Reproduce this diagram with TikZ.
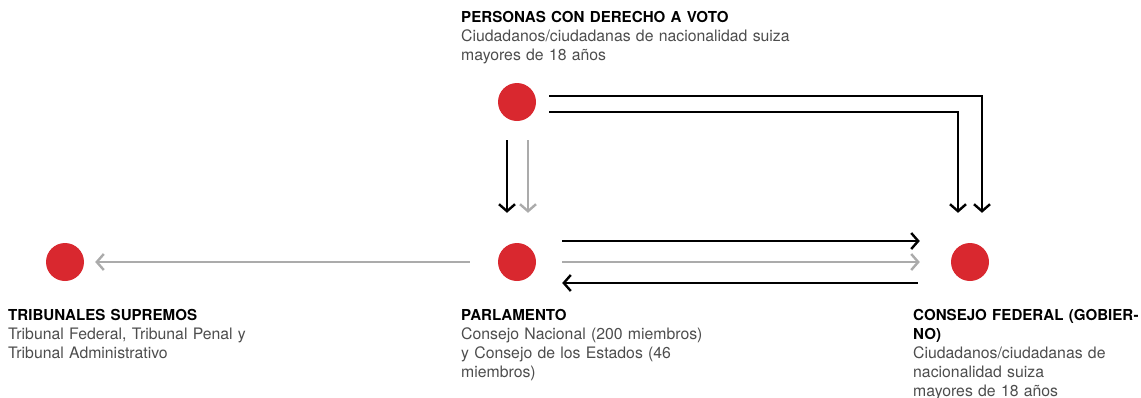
\documentclass[tikz,border=0pt]{standalone}
\usepackage{fontspec}
\setmainfont{TeX Gyre Heros}
\usetikzlibrary{arrows.meta,calc}
\definecolor{dotred}{HTML}{D9282F}
\definecolor{arrgray}{HTML}{ABABAB}
\definecolor{txtgray}{HTML}{4D4D4D}
\newcommand\lbltitle[1]{{\color{black}\fontsize{15.1}{19}\selectfont\bfseries #1}}
\begin{document}
\begin{tikzpicture}[x=1pt,y=-1pt,
    dot/.style={circle,fill=dotred,minimum size=38pt,inner sep=0pt},
    blk/.style={draw=black,line width=2.4pt,-{Straight Barb[length=7pt,width=16pt]}},
    gry/.style={blk,draw=arrgray},
    lbl/.style={anchor=base west,inner sep=0pt,text width=#1,align=left,
      text=txtgray,font=\fontsize{15.8}{19}\selectfont},
    lbl/.default=300pt]
        \useasboundingbox (0,0) rectangle (1141,397);

        \node [dot] (voto) at (517,102) {};
        \node [dot] (parl) at (517,262) {};
        \node [dot] (trib) at (65,262) {};
        \node [dot] (cons) at (970,262) {};

        \draw [blk] ([shift={(13,-6)}]voto.east) -| ([shift={(12,-30)}]cons.north);
        \draw [blk] ([shift={(13,10)}]voto.east) -| ([shift={(-12,-30)}]cons.north);
        \draw [blk] ([shift={(-10,19)}]voto.south) -- ([shift={(-10,-30)}]parl.north);
        \draw [gry] ([shift={(11,19)}]voto.south) -- ([shift={(11,-30)}]parl.north);

        \draw [blk] ([shift={(26,-21)}]parl.east) -- ([shift={(-31,-21)}]cons.west);
        \draw [gry] ([xshift=26]parl.east) -- ([xshift=-31]cons.west);
        \draw [blk] ([shift={(-33,21)}]cons.west) -- ([shift={(26,21)}]parl.east);
        \draw [gry] ([xshift=-28]parl.west) -- ([xshift=11]trib.east);

        \node [lbl=400pt] (vototxt) at (461,22.5) {\lbltitle{PERSONAS CON DERECHO A VOTO}\\
          Ciudadanos/ciudadanas de nacionalidad suiza\\ mayores de 18 años};
        \node [lbl] (tribtxt) at (8,320) {\lbltitle{TRIBUNALES SUPREMOS}\\
          Tribunal Federal, Tribunal Penal y\\ Tribunal Administrativo};
        \node [lbl] (parltxt) at (461,320) {\lbltitle{PARLAMENTO}\\
          Consejo Nacional (200 miembros)\\ y Consejo de los Estados (46\\ miembros)};
        \node [lbl=226pt] (constxt) at (913,320) {\lbltitle{CONSEJO FEDERAL (GOBIER-\\ NO)}\\
          Ciudadanos/ciudadanas de\\ nacionalidad suiza\\ mayores de 18 años};
\end{tikzpicture}
\end{document}
